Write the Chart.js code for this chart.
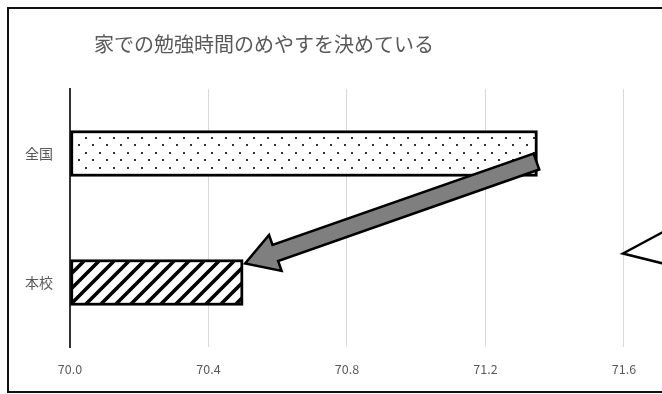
<!DOCTYPE html>
<html>
<head>
<meta charset="utf-8">
<script src="https://cdn.jsdelivr.net/npm/chart.js@4"></script>
<style>
  html, body { margin: 0; padding: 0; background: #fff; }
  #wrap { position: relative; width: 662px; height: 394px; overflow: hidden; }
  #frame { position: absolute; left: 7px; top: 7px; width: 1000px; height: 382px; border: 2px solid #111; }
  #canvas { position: absolute; left: 0; top: 0; }
</style>
</head>
<body>
<div id="wrap">
  <div id="frame"></div>
  <canvas id="canvas" width="800" height="394"></canvas>
</div>
<script>
const title = '家での勉強時間のめやすを決めている'
const categories = ['全国', '本校']
const values = [71.35, 70.5]
const xTicks = [70.0, 70.4, 70.8, 71.2, 71.6, 72.0]
const textColor = '#595959'
const fontFamily = '"Noto Sans CJK JP", "Noto Sans", sans-serif'

// dotted fill for the first bar
function dotPattern(){
    const c = document.createElement('canvas')
    c.width = 14; c.height = 15
    const g = c.getContext('2d')
    g.fillStyle = '#fff'
    g.fillRect(0, 0, 14, 15)
    g.fillStyle = '#333'
    g.fillRect(1, 2, 2, 2)
    g.fillRect(8, 9, 2, 2)
    return g.createPattern(c, 'repeat')
}

// diagonal hatch for the second bar
function hatchPattern(){
    const s = 15
    const c = document.createElement('canvas')
    c.width = s; c.height = s
    const g = c.getContext('2d')
    g.fillStyle = '#fff'
    g.fillRect(0, 0, s, s)
    g.strokeStyle = '#000'
    g.lineWidth = 3.6
    g.beginPath()
    g.moveTo(-2, s + 2); g.lineTo(s + 2, -2)
    g.moveTo(-2, 2); g.lineTo(2, -2)
    g.moveTo(s - 2, s + 2); g.lineTo(s + 2, s - 2)
    g.stroke()
    return g.createPattern(c, 'repeat')
}

const extras = {
    id: 'extras',
    afterDatasetsDraw(chart){
        const ctx = chart.ctx
        const bars = chart.getDatasetMeta(0).data
        const a = bars[0], b = bars[1]
        // arrow from the end of 全国 to the end of 本校
        const sx = a.x - 1, sy = a.y + 8
        const ex = b.x + 2, ey = b.y - b.height / 2 + 4
        const ang = Math.atan2(ey - sy, ex - sx)
        const len = Math.hypot(ex - sx, ey - sy)
        const shaft = 8.5, head = 19, headLen = 32
        ctx.save()
        ctx.translate(sx, sy)
        ctx.rotate(ang)
        ctx.beginPath()
        ctx.moveTo(0, -shaft)
        ctx.lineTo(len - headLen, -shaft)
        ctx.lineTo(len - headLen, -head)
        ctx.lineTo(len, 0)
        ctx.lineTo(len - headLen, head)
        ctx.lineTo(len - headLen, shaft)
        ctx.lineTo(0, shaft)
        ctx.closePath()
        ctx.fillStyle = '#7f7f7f'
        ctx.fill()
        ctx.lineWidth = 2.5
        ctx.lineJoin = 'miter'
        ctx.strokeStyle = '#000'
        ctx.stroke()
        ctx.restore()

        // pointer of a callout at the right
        const px = chart.scales.x.getPixelForValue(71.6) - 1
        const py = b.y - 29
        ctx.save()
        ctx.beginPath()
        ctx.moveTo(px + 80, py - 43)
        ctx.lineTo(px, py)
        ctx.lineTo(px + 80, py + 20)
        ctx.lineWidth = 2.5
        ctx.strokeStyle = '#000'
        ctx.stroke()
        ctx.restore()
    },
    afterDraw(chart){
        const ctx = chart.ctx
        ctx.save()
        ctx.font = '20px ' + fontFamily
        ctx.fillStyle = textColor
        ctx.textAlign = 'center'
        ctx.textBaseline = 'middle'
        ctx.fillText(title, 264, 44)
        ctx.restore()
    }
}

const ctx = document.getElementById('canvas')
new Chart(ctx, {
    type: 'bar',
    data: {
        labels: categories,
        datasets: [{
            data: values,
            base: 70,
            backgroundColor: [dotPattern(), hatchPattern()],
            borderColor: '#000',
            borderWidth: 3,
            borderSkipped: false,
            barThickness: 46
        }]
    },
    options: {
        indexAxis: 'y',
        responsive: false,
        animation: false,
        layout: { padding: { top: 89, right: 37.5, bottom: 0, left: 0 } },
        plugins: {
            legend: { display: false },
            tooltip: { enabled: false }
        },
        scales: {
            x: {
                min: 70,
                max: 72,
                afterBuildTicks: (scale) => { scale.ticks = xTicks.map(v => ({ value: v })) },
                afterFit: (scale) => { scale.height = 47 },
                grid: { color: '#d9d9d9', lineWidth: 1, drawTicks: false },
                border: { display: false },
                ticks: {
                    padding: 15,
                    color: textColor,
                    font: { family: fontFamily, size: 12.5 },
                    maxRotation: 0,
                    callback: (v) => Number(v).toFixed(1)
                }
            },
            y: {
                afterFit: (scale) => { scale.width = 70 },
                grid: { display: false, drawTicks: false },
                border: { display: true, color: '#333', width: 2 },
                ticks: {
                    padding: 17,
                    color: textColor,
                    font: { family: fontFamily, size: 14 }
                }
            }
        }
    },
    plugins: [extras]
})
</script>
</body>
</html>
